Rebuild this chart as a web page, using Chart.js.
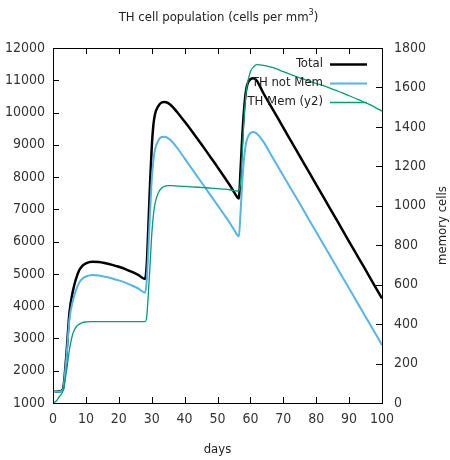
<!DOCTYPE html>
<html><head><meta charset="utf-8">
<script src="https://cdn.jsdelivr.net/npm/chart.js@4.4.1/dist/chart.umd.min.js"></script>
<style>html,body{margin:0;padding:0;background:#fff}</style>
</head><body>
<canvas id="c" width="450" height="460"></canvas>
<script>
// ---- data ----
const days = [0,1,2,3,4,5,6,7,8,9,10,12,14,16,18,20,22,24,26,28,
  28.5,29,29.5,30,30.5,31,32,33,34,35,36,38,40,42,44,46,48,50,52,54,56,
  56.5,57,57.5,58,58.5,59,60,61,62,
  64,66,68,70,72,74,76,78,80,82,84,86,88,90,92,94,96,98,100];
const total = [1350,1350,1355,1420,2400,3800,4450,4850,5120,5260,5330,5380,5370,5330,5280,5220,5150,5060,4960,4840,
  5300,6500,7800,8900,9600,9950,10200,10310,10330,10290,10210,9980,9720,9450,9170,8890,8600,8310,8010,7710,7380,
  7340,8200,9200,10000,10550,10850,11030,11060,10980,
  10590,10240,9890,9530,9180,8830,8470,8120,7770,7420,7060,6710,6360,6000,5650,5300,4950,4590,4240];
const notMem = [1340,1345,1350,1400,2300,3600,4150,4500,4730,4860,4920,4965,4950,4910,4860,4800,4730,4640,4540,4420,
  4800,5800,6900,7900,8500,8850,9130,9240,9250,9200,9120,8870,8580,8290,8000,7710,7420,7130,6840,6540,6210,
  6160,6900,7800,8500,8950,9180,9370,9400,9340,
  9090,8740,8390,8040,7690,7350,7000,6650,6300,5950,5600,5250,4900,4550,4200,3850,3500,3150,2800];
const mem = [0,10,35,60,150,270,350,385,400,408,411,413,413,413,413,413,413,413,413,413,
  440,560,700,850,950,1010,1065,1090,1100,1102,1102,1100,1098,1096,1094,1092,1090,1087,1084,1080,1075,
  1075,1120,1260,1420,1540,1610,1680,1705,1716,
  1712,1704,1694,1680,1667,1655,1643,1631,1620,1610,1598,1585,1572,1558,1544,1530,1515,1498,1480];
const seriesNames = ['Total','TH not Mem','TH Mem (y2)'];
const xRange = [0,100], xStep = 10;
const yRange = [1000,12000], yStep = 1000;
const y2Range = [0,1800], y2Step = 200;
const titleMain = 'TH cell population (cells per mm';
const titleSup = '3';
const xTitle = 'days';
const y2Title = 'memory cells';

const FONT = "'DejaVu Sans Condensed', 'DejaVu Sans', sans-serif";
const toXY = arr => days.map((d,i)=>({x:d,y:arr[i]}));
const plain = v => String(v);

const deco = {
  id:'deco',
  beforeDatasetsDraw(chart){
    const {ctx, chartArea:a, scales} = chart;
    ctx.save();
    ctx.strokeStyle='#000'; ctx.lineWidth=1;
    const L=6;
    ctx.beginPath();
    scales.x.ticks.forEach(t=>{
      const p=Math.round(scales.x.getPixelForValue(t.value))+0.5;
      ctx.moveTo(p,a.bottom); ctx.lineTo(p,a.bottom-L);
      ctx.moveTo(p,a.top); ctx.lineTo(p,a.top+L);
    });
    scales.y.ticks.forEach(t=>{
      const p=Math.round(scales.y.getPixelForValue(t.value))+0.5;
      ctx.moveTo(a.left,p); ctx.lineTo(a.left+L,p);
    });
    scales.y2.ticks.forEach(t=>{
      const p=Math.round(scales.y2.getPixelForValue(t.value))+0.5;
      ctx.moveTo(a.right,p); ctx.lineTo(a.right-L,p);
    });
    ctx.stroke();
    ctx.restore();
  },
  afterDraw(chart){
    const {ctx, chartArea:a} = chart;
    ctx.save();
    ctx.strokeStyle='#000'; ctx.lineWidth=1;
    ctx.strokeRect(Math.round(a.left)+0.5, Math.round(a.top)+0.5, Math.round(a.right-a.left), Math.round(a.bottom-a.top));
    // title
    ctx.fillStyle='#222';
    ctx.textBaseline='middle';
    ctx.font = '13px '+FONT;
    const w1 = ctx.measureText(titleMain).width;
    ctx.font = '9px '+FONT;
    const w2 = ctx.measureText(titleSup).width;
    ctx.font = '13px '+FONT;
    const w3 = ctx.measureText(')').width;
    let x0 = (a.left+a.right)/2 + 1 - (w1+w2+w3)/2;
    ctx.textAlign='left';
    ctx.fillText(titleMain, x0, 18);
    ctx.font = '9px '+FONT;
    ctx.fillText(titleSup, x0+w1, 13);
    ctx.font = '13px '+FONT;
    ctx.fillText(')', x0+w1+w2, 18);
    // y2 title
    ctx.save();
    ctx.translate(443,(a.top+a.bottom)/2);
    ctx.rotate(-Math.PI/2);
    ctx.textAlign='center';
    ctx.fillText(y2Title,0,0);
    ctx.restore();
    // legend
    const ds = chart.data.datasets;
    ds.forEach((d,i)=>{
      const y = 64 + i*19;
      ctx.textAlign='right'; ctx.fillStyle='#222';
      ctx.font='13px '+FONT;
      ctx.fillText(d.label, 323, y);
      ctx.strokeStyle=d.borderColor; ctx.lineWidth=d.borderWidth;
      ctx.beginPath(); ctx.moveTo(330,y+0.5); ctx.lineTo(367,y+0.5); ctx.stroke();
    });
    ctx.restore();
  }
};

new Chart(document.getElementById('c'), {
  type:'line',
  data:{datasets:[
    {label:seriesNames[0], data:toXY(total), borderColor:'#000000', borderWidth:2.5, yAxisID:'y', order:3},
    {label:seriesNames[1], data:toXY(notMem), borderColor:'#56b4e9', borderWidth:2, yAxisID:'y', order:2},
    {label:seriesNames[2], data:toXY(mem), borderColor:'#009e73', borderWidth:1.3, yAxisID:'y2', order:1}
  ]},
  options:{
    responsive:false, animation:false, devicePixelRatio:1,
    elements:{point:{radius:0}, line:{cubicInterpolationMode:'monotone', fill:false}},
    layout:{padding:{top:48,left:0,right:0,bottom:0}},
    plugins:{legend:{display:false}, title:{display:false}, tooltip:{enabled:false}},
    scales:{
      x:{type:'linear', min:xRange[0], max:xRange[1],
         ticks:{stepSize:xStep, padding:8, color:'#333', font:{family:FONT,size:14}, maxRotation:0, callback:plain},
         grid:{display:false, drawTicks:false}, border:{display:false},
         title:{display:true, text:xTitle, color:'#222', font:{family:FONT,size:13}, padding:{top:0,bottom:3}},
         afterFit:s=>{s.height=57;}},
      y:{type:'linear', position:'left', min:yRange[0], max:yRange[1],
         ticks:{stepSize:yStep, padding:8, color:'#333', font:{family:FONT,size:14}, callback:plain},
         grid:{display:false, drawTicks:false}, border:{display:false},
         afterFit:s=>{s.width=53;}},
      y2:{type:'linear', position:'right', min:y2Range[0], max:y2Range[1],
         ticks:{stepSize:y2Step, padding:12, color:'#333', font:{family:FONT,size:14}, callback:plain},
         grid:{display:false, drawTicks:false}, border:{display:false},
         afterFit:s=>{s.width=68;}}
    }
  },
  plugins:[deco]
});
</script>
</body></html>
